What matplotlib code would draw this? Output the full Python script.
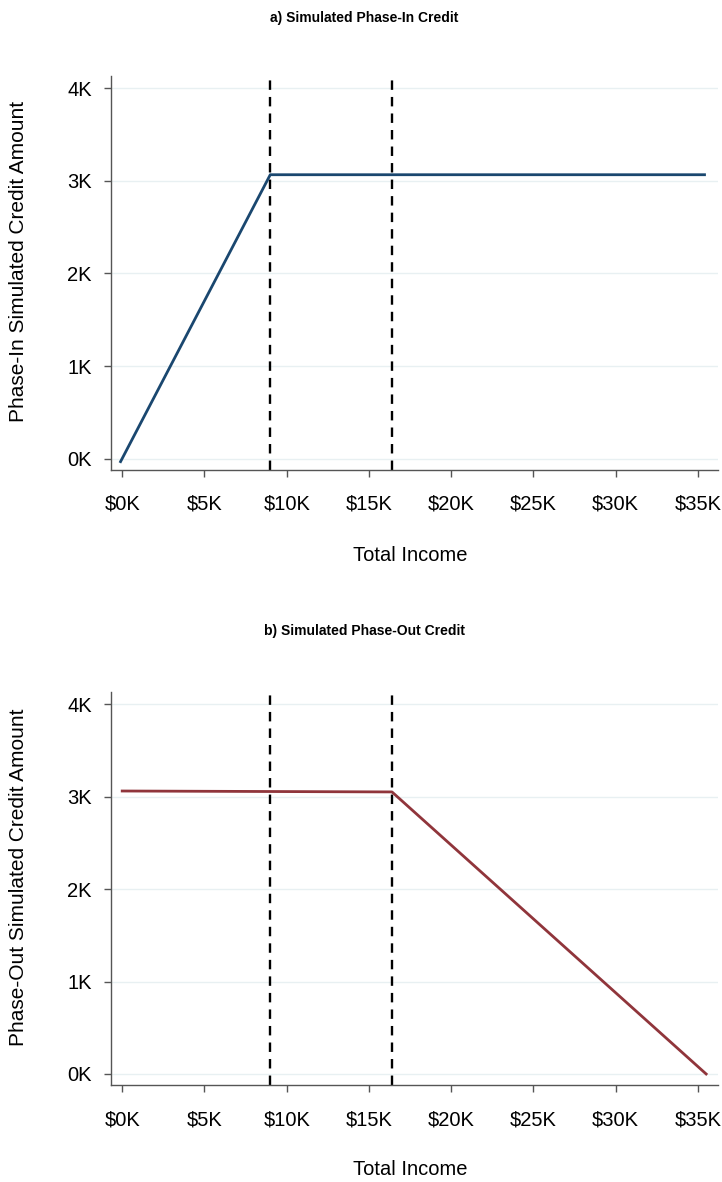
import matplotlib.pyplot as plt
from matplotlib.ticker import FuncFormatter

plt.rcParams['font.family'] = ['Liberation Sans', 'DejaVu Sans']

# phase-in credit (income in dollars, credit in dollars)
phase_in_income = [-100, 9000, 35400]
phase_in_credit = [-30, 3065, 3065]

# phase-out credit
phase_out_income = [0, 16400, 35500]
phase_out_credit = [3060, 3050, 0]

kink_lines = [9000, 16400]
x_ticks = [0, 5000, 10000, 15000, 20000, 25000, 30000, 35000]
y_ticks = [0, 1000, 2000, 3000, 4000]

panels = [
    ('a) Simulated Phase-In Credit', 'Phase-In Simulated Credit Amount',
     phase_in_income, phase_in_credit, '#1a476f'),
    ('b) Simulated Phase-Out Credit', 'Phase-Out Simulated Credit Amount',
     phase_out_income, phase_out_credit, '#90353b'),
]

fig = plt.figure(figsize=(7.22, 11.82), dpi=100)
boxes = [[0.154, 0.6024, 0.84, 0.3333], [0.154, 0.082, 0.84, 0.3325]]
title_y = [0.985, 0.466]

for box, ty, (title, ylab, xs, ys, col) in zip(boxes, title_y, panels):
    ax = fig.add_axes(box)
    for ky in y_ticks:
        ax.axhline(ky, color='#e8f0f2', lw=1.0, zorder=0)
    for kx in kink_lines:
        ax.axvline(kx, color='black', lw=1.7, ls=(0, (4, 3)), zorder=2)
    ax.plot(xs, ys, color=col, lw=2.0, zorder=3)
    ax.set_xlim(-670, 36200)
    ax.set_ylim(-120, 4130)
    ax.set_xticks(x_ticks)
    ax.set_yticks(y_ticks)
    ax.xaxis.set_major_formatter(FuncFormatter(lambda v, p: '$%dK' % round(v / 1000)))
    ax.yaxis.set_major_formatter(FuncFormatter(lambda v, p: '%dK' % round(v / 1000)))
    ax.tick_params(axis='both', labelsize=14.5, colors='#555555', labelcolor='black',
                   length=5, width=1)
    ax.tick_params(axis='y', pad=9)
    ax.tick_params(axis='x', pad=13)
    for s in ['top', 'right']:
        ax.spines[s].set_visible(False)
    for s in ['left', 'bottom']:
        ax.spines[s].set_color('#555555')
        ax.spines[s].set_linewidth(1.0)
    ax.set_xlabel('Total Income', fontsize=14.5, va='center')
    ax.xaxis.set_label_coords(0.493, -0.216)
    ax.set_ylabel(ylab, fontsize=15, va='center')
    ax.yaxis.set_label_coords(-0.153, 0.53)
    fig.text(0.505, ty, title, ha='center', va='center', fontsize=10, fontweight='bold')

fig.savefig('out.png', dpi=100)
